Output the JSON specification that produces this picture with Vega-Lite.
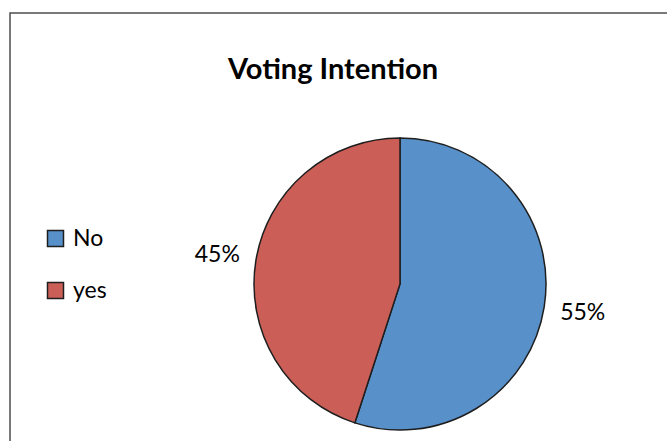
{
  "$schema": "https://vega.github.io/schema/vega-lite/v6.json",
  "width": 780,
  "height": 542,
  "autosize": {"type": "none"},
  "padding": {"left": 10, "top": 13, "right": -123, "bottom": -114},
  "background": "white",
  "view": {"stroke": "#4d4d4d", "strokeWidth": 1.5},
  "title": {
    "text": "Voting Intention",
    "font": "Lato",
    "fontSize": 29,
    "fontWeight": "bold",
    "color": "#000000",
    "anchor": "middle",
    "dx": -67,
    "dy": 95,
    "offset": 0,
    "baseline": "alphabetic"
  },
  "data": {
    "values": [
      {"cat": "No", "ord": 1, "value": 55, "label": "55%"},
      {"cat": "yes", "ord": 2, "value": 45, "label": "45%"}
    ]
  },
  "layer": [
    {
      "mark": {"type": "arc", "outerRadius": 146, "stroke": "#1e1e1e", "strokeWidth": 1.5},
      "encoding": {
        "theta": {"field": "value", "type": "quantitative", "stack": true},
        "order": {"field": "ord", "type": "quantitative", "sort": "ascending"},
        "color": {
          "field": "cat",
          "type": "nominal",
          "scale": {"domain": ["No", "yes"], "range": ["#5891CA", "#CB5F58"]},
          "legend": {
            "title": null,
            "orient": "none",
            "legendX": 34,
            "legendY": 214,
            "symbolType": "square",
            "symbolSize": 256,
            "symbolStrokeColor": "#1e1e1e",
            "symbolStrokeWidth": 1.5,
            "symbolOpacity": 1,
            "labelFont": "Lato",
            "labelFontSize": 23,
            "labelColor": "#000000",
            "labelOffset": 6,
            "rowPadding": 28
          }
        }
      }
    },
    {
      "mark": {"type": "text", "radius": 185, "font": "Lato", "fontSize": 23, "color": "#000000"},
      "encoding": {
        "theta": {"field": "value", "type": "quantitative", "stack": true},
        "order": {"field": "ord", "type": "quantitative", "sort": "ascending"},
        "detail": {"field": "cat", "type": "nominal"},
        "text": {"field": "label", "type": "nominal"}
      }
    }
  ],
  "config": {
    "view": {"stroke": "#4d4d4d", "strokeWidth": 1.5}
  }
}
